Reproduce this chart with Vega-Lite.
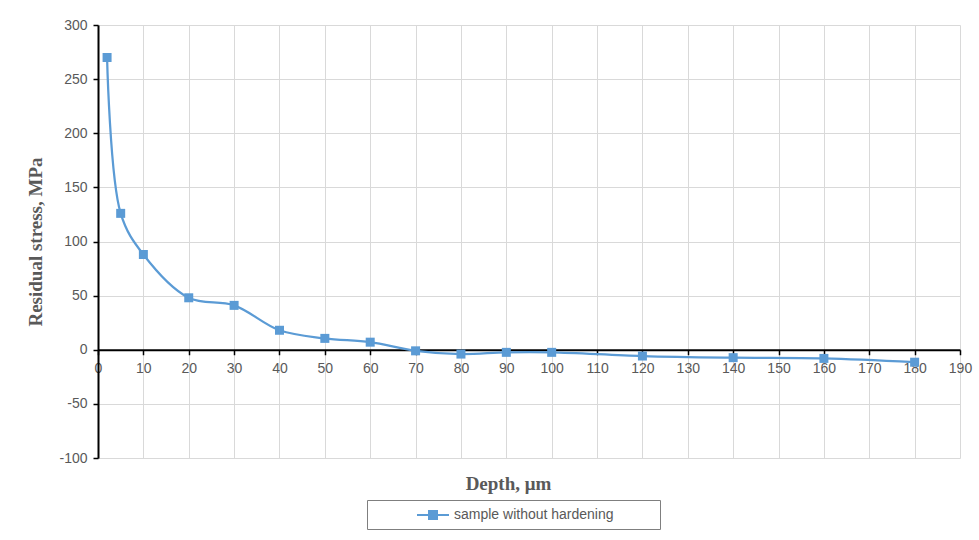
{
  "$schema": "https://vega.github.io/schema/vega-lite/v6.json",
  "autosize": "none",
  "width": 862,
  "height": 433,
  "padding": {"left": 98, "top": 25, "right": 19, "bottom": 82},
  "background": "white",
  "config": {
    "view": {"stroke": null},
    "axis": {
      "labelFont": "Liberation Sans",
      "labelFontSize": 14,
      "labelColor": "#595959",
      "gridColor": "#d9d9d9",
      "titleFont": "Liberation Serif",
      "titleFontSize": 19,
      "titleFontWeight": "bold",
      "titleColor": "#595959"
    }
  },
  "data": {
    "values": [
      {"depth": 2, "stress": 270, "series": "sample without hardening"},
      {"depth": 5, "stress": 126, "series": "sample without hardening"},
      {"depth": 10, "stress": 88, "series": "sample without hardening"},
      {"depth": 20, "stress": 48, "series": "sample without hardening"},
      {"depth": 30, "stress": 41, "series": "sample without hardening"},
      {"depth": 40, "stress": 18, "series": "sample without hardening"},
      {"depth": 50, "stress": 10.5, "series": "sample without hardening"},
      {"depth": 60, "stress": 7, "series": "sample without hardening"},
      {"depth": 70, "stress": -1, "series": "sample without hardening"},
      {"depth": 80, "stress": -4, "series": "sample without hardening"},
      {"depth": 90, "stress": -2.4, "series": "sample without hardening"},
      {"depth": 100, "stress": -2.4, "series": "sample without hardening"},
      {"depth": 120, "stress": -5.8, "series": "sample without hardening"},
      {"depth": 140, "stress": -7.3, "series": "sample without hardening"},
      {"depth": 160, "stress": -8, "series": "sample without hardening"},
      {"depth": 180, "stress": -11.5, "series": "sample without hardening"}
    ]
  },
  "resolve": {"axis": {"x": "independent"}},
  "layer": [
    {
      "mark": {"type": "line", "interpolate": "catmull-rom", "strokeWidth": 2.25},
      "encoding": {
        "x": {
          "field": "depth", "type": "quantitative",
          "scale": {"domain": [0, 190], "nice": false, "zero": false},
          "axis": {
            "orient": "bottom",
            "values": [0,10,20,30,40,50,60,70,80,90,100,110,120,130,140,150,160,170,180,190],
            "grid": true,
            "labels": false,
            "ticks": false,
            "domain": false,
            "title": null
          }
        },
        "y": {
          "field": "stress", "type": "quantitative",
          "scale": {"domain": [-100, 300], "nice": false},
          "axis": {
            "values": [-100,-50,0,50,100,150,200,250,300],
            "labelExpr": "'' + datum.value",
            "grid": true,
            "domainColor": "#000000",
            "domainWidth": 2,
            "tickColor": "#000000",
            "tickWidth": 1.5,
            "tickSize": 5,
            "labelPadding": 6,
            "title": "Residual stress, MPa",
            "titlePadding": 13
          }
        },
        "color": {
          "field": "series", "type": "nominal",
          "scale": {"range": ["#5B9BD5"]},
          "legend": {
            "title": " ",
            "titleOrient": "right",
            "titlePadding": 40,
            "orient": "none",
            "legendX": 269,
            "legendY": 475,
            "strokeColor": "#7f7f7f",
            "padding": 6,
            "symbolType": "M-2,0H2M-0.5,-0.5H0.5V0.5H-0.5Z",
            "symbolSize": 256,
            "symbolStrokeWidth": 2,
            "symbolFillColor": "#5B9BD5",
            "symbolOffset": 51,
            "labelFont": "Liberation Sans",
            "labelFontSize": 14,
            "labelColor": "#595959",
            "labelOffset": 12
          }
        }
      }
    },
    {
      "mark": {"type": "square", "size": 81, "filled": true, "opacity": 1},
      "encoding": {
        "x": {
          "field": "depth", "type": "quantitative",
          "axis": {
            "orient": "bottom",
            "zindex": 0,
            "values": [0,10,20,30,40,50,60,70,80,90,100,110,120,130,140,150,160,170,180,190],
            "offset": -108.25,
            "grid": false,
            "domainColor": "#000000",
            "domainWidth": 2,
            "tickColor": "#000000",
            "tickWidth": 1.5,
            "tickSize": 5,
            "labelPadding": 7,
            "labelFlush": false,
            "title": "Depth, μm",
            "titleX": 410,
            "titlePadding": 99
          }
        },
        "y": {"field": "stress", "type": "quantitative"},
        "color": {"field": "series", "type": "nominal"}
      }
    }
  ]
}
